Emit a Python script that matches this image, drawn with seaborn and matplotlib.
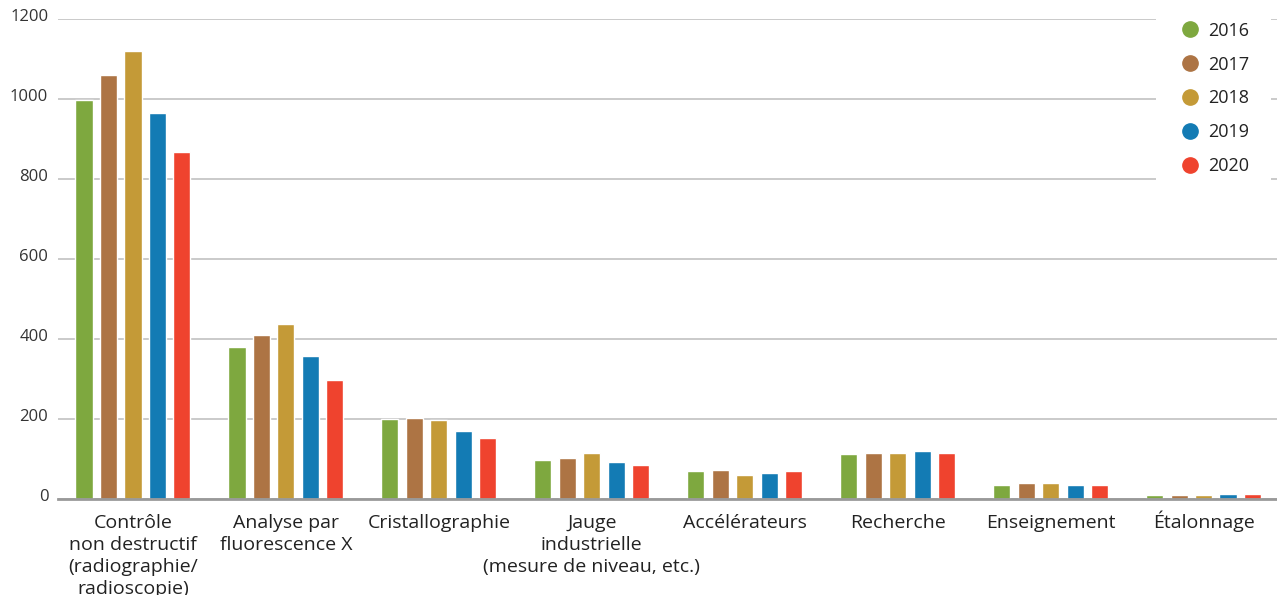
import matplotlib
matplotlib.use("Agg")
import matplotlib.pyplot as plt
import matplotlib.transforms as mtransforms
from matplotlib.lines import Line2D
import seaborn as sns
import pandas as pd

categories = [
    "Contrôle\nnon destructif\n(radiographie/\nradioscopie)",
    "Analyse par\nfluorescence X",
    "Cristallographie",
    "Jauge\nindustrielle\n(mesure de niveau, etc.)",
    "Accélérateurs",
    "Recherche",
    "Enseignement",
    "Étalonnage",
]
years = ["2016", "2017", "2018", "2019", "2020"]
v2016 = [997, 380, 200, 97, 69, 112, 35, 10]
v2017 = [1060, 410, 202, 102, 72, 115, 40, 10]
v2018 = [1120, 437, 197, 115, 60, 115, 40, 10]
v2019 = [965, 357, 170, 92, 65, 120, 35, 12]
v2020 = [867, 297, 152, 85, 69, 115, 35, 12]
yticks = [0, 200, 400, 600, 800, 1000, 1200]

colors = ["#7EA83F", "#AD7444", "#C49A37", "#137BB4", "#EF432E"]

series = [v2016, v2017, v2018, v2019, v2020]
df = pd.DataFrame(
    [(c, y, v) for y, vals in zip(years, series) for c, v in zip(categories, vals)],
    columns=["categorie", "annee", "valeur"],
)

sns.set_theme(style="white")
plt.rcParams["font.family"] = ["Open Sans", "DejaVu Sans"]

fig = plt.figure(figsize=(12.77, 5.95), dpi=100)
ax = fig.add_axes([58 / 1277, (595 - 499) / 595, 1 - 58 / 1277, 480 / 595])

sns.barplot(
    data=df, x="categorie", y="valeur", hue="annee",
    order=categories, hue_order=years, palette=colors,
    width=0.8, gap=0.3, saturation=1, legend=False, ax=ax,
)

ax.set_xlim(-0.49, 7.48)
ax.set_ylim(0, 1200)
ax.set_yticks(yticks)
ax.set_yticklabels([str(t) for t in yticks])
ax.set_xlabel("")
ax.set_ylabel("")

# grid lines and baseline
ax.yaxis.grid(True, color="#CACACA", linewidth=1.4)
ax.set_axisbelow(True)
for s in ["top", "right", "left"]:
    ax.spines[s].set_visible(False)
ax.spines["bottom"].set_color("#999999")
ax.spines["bottom"].set_linewidth(2)
ax.spines["bottom"].set_zorder(5)

ax.tick_params(axis="y", length=0, pad=7, labelsize=12, labelcolor="#333333")
shift = mtransforms.ScaledTranslation(0, 3 / 72, fig.dpi_scale_trans)
for lab in ax.get_yticklabels():
    lab.set_transform(lab.get_transform() + shift)
    lab.set_ha("right")

# category names: one text per line, baselines evenly spaced under the axis
ax.tick_params(axis="x", length=0, labelbottom=False)
base = mtransforms.blended_transform_factory(ax.transData, ax.transAxes)
first_baseline_px = 28.5
line_step_px = 22.3
for i, name in enumerate(categories):
    for j, line in enumerate(name.split("\n")):
        dy = -(first_baseline_px + j * line_step_px) / fig.dpi
        tr = base + mtransforms.ScaledTranslation(0, dy, fig.dpi_scale_trans)
        ax.text(i, 0, line, transform=tr, ha="center", va="baseline",
                fontsize=14, color="#222222", clip_on=False)

handles = [
    Line2D([], [], marker="o", linestyle="", markersize=11,
           markerfacecolor=c, markeredgecolor=c)
    for c in colors
]
leg = fig.legend(
    handles, years, loc="upper left", bbox_to_anchor=(1156 / 1277, 1.0),
    frameon=True, facecolor="white", edgecolor="none", framealpha=1,
    fontsize=13, labelspacing=0.88, handletextpad=0.3, handlelength=1.4,
    borderpad=1.2, borderaxespad=0.0,
)
leg.get_frame().set_boxstyle("square", pad=0)
for t in leg.get_texts():
    t.set_color("#222222")

fig.savefig("out.png", dpi=100, facecolor="white")
